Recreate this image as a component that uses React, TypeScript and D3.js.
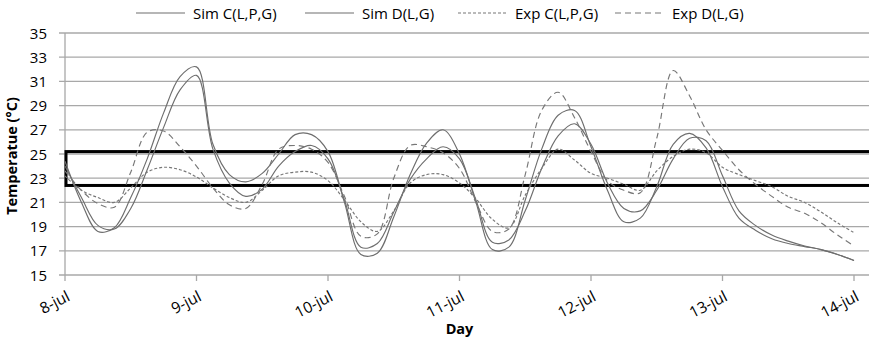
import React from 'react';
import * as d3 from 'd3';

// sampling every 3 hours from 8-jul 00:00 to 14-jul 00:00
const hours = d3.range(0, 145, 3);

const dayLabels = ['8-jul', '9-jul', '10-jul', '11-jul', '12-jul', '13-jul', '14-jul'];
const tempTicks = [15, 17, 19, 21, 23, 25, 27, 29, 31, 33, 35];
const comfortBand = [22.4, 25.2];

const simC = [
  24.4, 21.0, 18.6, 18.9, 21.4, 24.6, 28.4, 31.4, 32.2, 25.8, 23.3, 22.7, 23.4, 25.0, 26.6, 26.6,
  25.2, 21.0, 16.7, 16.8, 19.8, 23.3, 25.9, 27.0, 25.0, 21.0, 17.1, 17.3, 21.2, 25.4, 28.2, 28.6,
  25.6, 22.0, 19.4, 19.7, 22.3, 25.8, 26.7, 25.5, 22.3, 19.7, 18.7, 18.0, 17.6, 17.35, 17.1, 16.7,
  16.2,
];
const simD = [
  24.0, 21.4, 19.1, 18.8, 20.5, 23.7, 27.2, 30.3, 31.5, 25.4, 22.6, 21.5, 22.1, 24.0, 25.2, 25.7,
  24.6, 21.2, 17.3, 17.6, 20.2, 22.9, 24.6, 25.6, 24.6, 21.2, 17.7, 17.9, 20.3, 23.8, 26.5, 27.5,
  25.8, 22.6, 20.5, 20.3, 22.0, 24.6, 26.3, 26.1, 23.2, 20.3, 19.1, 18.3, 17.8, 17.4, 17.1, 16.7,
  16.2,
];
const expC = [
  23.2, 22.0, 21.4, 21.0, 22.2, 23.5, 23.9, 23.7, 23.1, 22.2, 21.4, 21.0, 22.0, 23.2, 23.5, 23.5,
  22.8, 21.2, 19.4, 18.6, 20.3, 22.6, 23.3, 23.3, 22.6, 21.3, 19.6, 18.9, 21.6, 23.8, 25.4, 24.5,
  23.4, 23.0, 22.5, 22.0, 23.6, 24.8, 25.4, 25.1, 23.9, 23.3, 22.8, 22.3, 21.5, 21.0, 20.2, 19.3,
  18.5,
];
const expD = [
  23.6, 22.0, 20.9, 20.6, 23.5, 26.8, 26.9, 25.6, 24.0, 22.2, 20.8, 20.5, 22.5, 25.4, 25.7, 25.4,
  24.3, 21.5, 18.2, 18.4, 23.0, 25.7, 25.6, 25.1, 23.8, 21.0, 18.6, 18.8, 23.3, 28.6, 30.1, 28.0,
  25.2, 22.8, 22.0, 21.8, 26.3, 31.9, 29.8, 27.0, 25.3, 23.7, 22.5, 21.5, 20.6, 20.1, 19.3, 18.3,
  17.4,
];

const series = [
  { name: 'Sim C(L,P,G)', values: simC, color: '#6e6e6e', dash: null, legendX: 136 },
  { name: 'Sim D(L,G)', values: simD, color: '#6e6e6e', dash: null, legendX: 305 },
  { name: 'Exp C(L,P,G)', values: expC, color: '#777', dash: '3,2', legendX: 458 },
  { name: 'Exp D(L,G)', values: expD, color: '#777', dash: '6,4', legendX: 615 },
];

const W = 869;
const H = 340;
const FONT = "'Open Sans', 'Liberation Sans', sans-serif";

export default function App() {
  const x = d3.scaleLinear().domain([0, 144]).range([65, 854]);
  const y = d3.scaleLinear().domain([15, 35]).range([275, 33]);
  const line = d3
    .line<number>()
    .x((_, i) => x(hours[i]))
    .y((v) => y(v))
    .curve(d3.curveCatmullRom.alpha(0.5));

  return (
    <svg
      width={W}
      height={H}
      style={{ position: 'absolute', left: 0, top: 0, background: '#fff' }}
      fontFamily={FONT}
    >
      {/* horizontal gridlines */}
      {tempTicks.map((t) => (
        <line key={t} x1={59} x2={W} y1={y(t)} y2={y(t)} stroke="#a8a8a8" strokeWidth={1.3} />
      ))}
      {/* y axis */}
      <line x1={65} x2={65} y1={y(35)} y2={y(15)} stroke="#a8a8a8" strokeWidth={1.3} />
      {tempTicks.map((t) => (
        <text key={t} x={47} y={y(t) + 5.5} textAnchor="end" fontSize={15} fill="#000">
          {t}
        </text>
      ))}
      <text
        transform={`translate(17,${(y(35) + y(15)) / 2 + 2}) rotate(-90)`}
        textAnchor="middle"
        fontSize={14.5}
        fontWeight="bold"
      >
        Temperatue (°C)
      </text>

      {/* x axis */}
      {dayLabels.map((lab, i) => (
        <g key={lab}>
          <line x1={x(i * 24)} x2={x(i * 24)} y1={y(15)} y2={y(15) + 6} stroke="#a8a8a8" strokeWidth={1.3} />
          <text
            transform={`translate(${x(i * 24) + 6},${y(15) + 25}) rotate(-27)`}
            textAnchor="end"
            fontSize={15.5}
          >
            {lab}
          </text>
        </g>
      ))}
      <text x={(65 + 854) / 2} y={334} textAnchor="middle" fontSize={14.5} fontWeight="bold">
        Day
      </text>

      {/* comfort band */}
      <rect
        x={66}
        y={y(comfortBand[1])}
        width={W}
        height={y(comfortBand[0]) - y(comfortBand[1])}
        fill="none"
        stroke="#000"
        strokeWidth={3}
      />

      {/* series */}
      {series.map((s) => (
        <path
          key={s.name}
          d={line(s.values) || ''}
          fill="none"
          stroke={s.color}
          strokeWidth={1.15}
          strokeDasharray={s.dash || undefined}
        />
      ))}

      {/* legend */}
      {series.map((s) => (
        <g key={s.name}>
          <line
            x1={s.legendX}
            x2={s.legendX + 49}
            y1={13}
            y2={13}
            stroke={s.color}
            strokeWidth={1.1}
            strokeDasharray={s.dash || undefined}
          />
          <text x={s.legendX + 57} y={18.5} fontSize={15}>
            {s.name}
          </text>
        </g>
      ))}
    </svg>
  );
}
